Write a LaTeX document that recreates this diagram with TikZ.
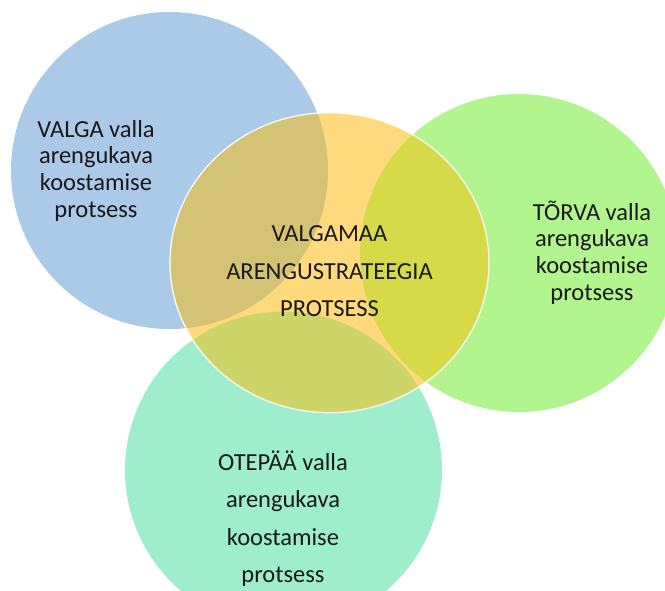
\documentclass[tikz,border=0pt]{standalone}
\usepackage{fontspec}
\setmainfont{Carlito}
\definecolor{cblue}{RGB}{171,202,232}
\definecolor{cgreen}{RGB}{178,245,143}
\definecolor{cteal}{RGB}{158,238,205}
\definecolor{cyellow}{RGB}{255,218,124}
\definecolor{cyb}{RGB}{212,195,116}
\definecolor{cyg}{RGB}{215,218,72}
\definecolor{cyt}{RGB}{206,213,104}
\tikzset{
  lbl/.style={font=\fontsize{24.5}{26}\selectfont, anchor=base, inner sep=0pt, text=black!90}
}
\begin{document}
\begin{tikzpicture}[x=1pt,y=-1pt]
\useasboundingbox (0,0) rectangle (665,590);
% base circles
\fill[cblue]  (169.5,170.5) circle [radius=158.5];
\fill[cgreen] (519,253) circle [radius=159];
\fill[cteal]  (283.5,470) circle [radius=158.5];
\fill[cyellow] (329.5,262.7) ellipse [x radius=159.5, y radius=150];
% overlaps
\begin{scope}
  \clip (329.5,262.7) ellipse [x radius=159.5, y radius=150];
  \fill[cyb] (169.5,170.5) circle [radius=158.5];
  \fill[cyg] (519,253) circle [radius=159];
  \fill[cyt] (283.5,470) circle [radius=158.5];
\end{scope}
\draw[white, line width=1.2pt] (329.5,262.7) ellipse [x radius=159.5, y radius=150];
% labels
\node[lbl] (v1) at (96,137.3) {VALGA valla};
\node[lbl] (v2) at (96,163.9) {arengukava};
\node[lbl] (v3) at (96,190.5) {koostamise};
\node[lbl] (v4) at (96,217.1) {protsess};
\node[lbl] (t1) at (592,220) {TÕRVA valla};
\node[lbl] (t2) at (592,246.7) {arengukava};
\node[lbl] (t3) at (592,273.4) {koostamise};
\node[lbl] (t4) at (592,300.1) {protsess};
\node[lbl] (m1) at (329.5,241.7) {VALGAMAA};
\node[lbl] (m2) at (329.5,279.2) {ARENGUSTRATEEGIA};
\node[lbl] (m3) at (329.5,316.7) {PROTSESS};
\node[lbl] (o1) at (283,470) {OTEPÄÄ valla};
\node[lbl] (o2) at (283,507.5) {arengukava};
\node[lbl] (o3) at (283,545) {koostamise};
\node[lbl] (o4) at (283,582.5) {protsess};
\end{tikzpicture}
\end{document}
